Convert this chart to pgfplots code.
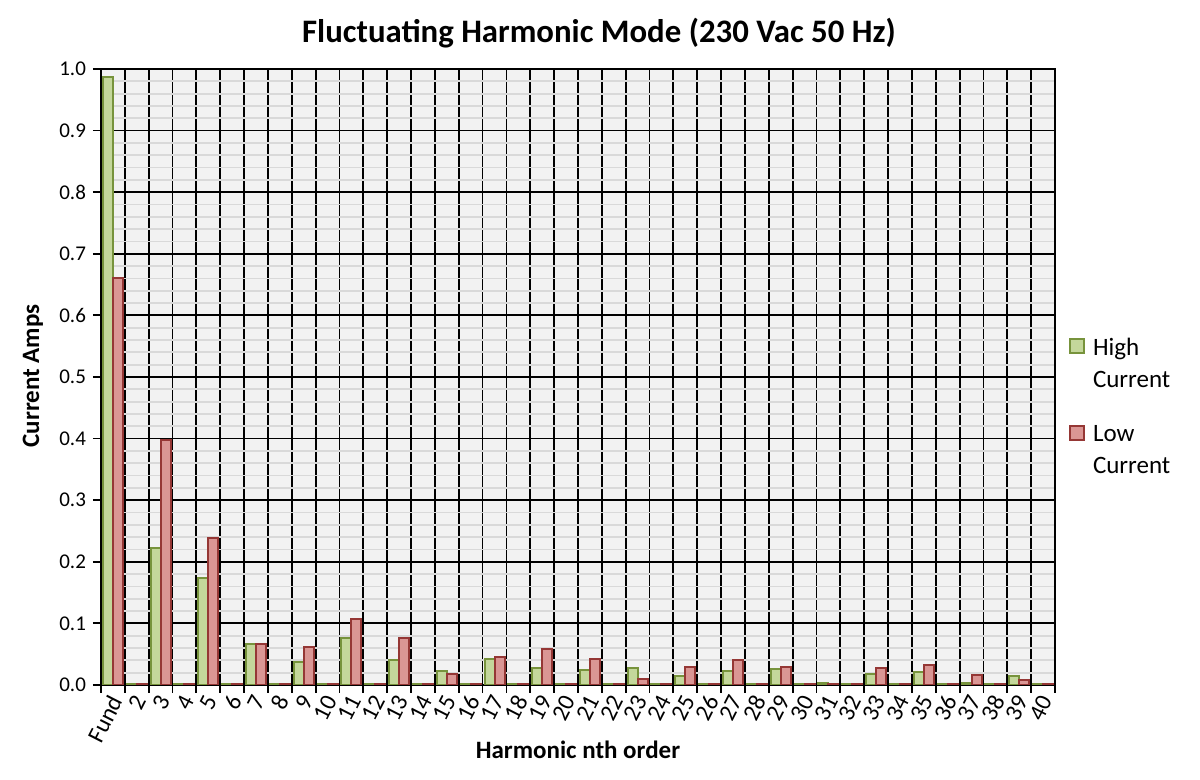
\documentclass[border=0pt]{standalone}
\usepackage{pgfplots}
\pgfplotsset{compat=1.18}
\usepackage{pgfplotstable}
\usepackage{fontspec}
\setmainfont{Carlito}
\definecolor{hifill}{HTML}{C4D79B}
\definecolor{hiline}{HTML}{77933C}
\definecolor{lofill}{HTML}{DA9694}
\definecolor{loline}{HTML}{953735}
\definecolor{bggray}{HTML}{F2F2F2}
\definecolor{mingrid}{HTML}{D9D9D9}

\pgfplotstableread{
x hi lo
1 0.987 0.660
2 0.002 0.002
3 0.223 0.397
4 0.002 0.002
5 0.173 0.239
6 0.002 0.002
7 0.067 0.067
8 0.002 0.002
9 0.038 0.062
10 0.002 0.002
11 0.077 0.107
12 0.002 0.002
13 0.040 0.077
14 0.002 0.002
15 0.022 0.018
16 0.002 0.002
17 0.043 0.045
18 0.002 0.002
19 0.027 0.059
20 0.002 0.002
21 0.025 0.043
22 0.002 0.002
23 0.027 0.009
24 0.002 0.002
25 0.014 0.030
26 0.002 0.002
27 0.022 0.041
28 0.002 0.002
29 0.026 0.029
30 0.002 0.002
31 0.004 0.002
32 0.002 0.002
33 0.018 0.027
34 0.002 0.002
35 0.021 0.032
36 0.002 0.002
37 0.004 0.017
38 0.002 0.002
39 0.014 0.008
40 0.002 0.002
}\datatable

\begin{document}
\begin{tikzpicture}
\path[use as bounding box] (0,0) rectangle (600pt,390pt);
\begin{axis}[
  at={(50.5pt,47.5pt)}, anchor=south west,
  scale only axis, width=477pt, height=308pt,
  ybar=0pt, bar width=0.42,
  xmin=0.5, xmax=40.5, ymin=0, ymax=1,
  xtick pos=left, ytick pos=left,
  xtick={1,...,40},
  xticklabels={Fund,2,3,4,5,6,7,8,9,10,11,12,13,14,15,16,17,18,19,20,21,22,23,24,25,26,27,28,29,30,31,32,33,34,35,36,37,38,39,40},
  x tick label style={rotate=63, anchor=east, inner sep=1pt, yshift=-2.5pt, font=\fontsize{12}{14}\selectfont},
  y tick label style={font=\fontsize{10.5}{12}\selectfont},
  major x tick style={draw=none},
  minor xtick={0.5,1.5,...,40.5},
  xminorgrids, minor x grid style={black, line width=0.9pt},
  minor x tick style={black, line width=0.9pt},
  tick align=outside, major tick length=4pt, minor tick length=4pt,
  ytick={0,0.1,0.2,0.3,0.4,0.5,0.6,0.7,0.8,0.9,1.0},
  yticklabel style={/pgf/number format/fixed, /pgf/number format/fixed zerofill, /pgf/number format/precision=1},
  ymajorgrids, major y grid style={black, line width=0.9pt},
  major y tick style={black, line width=0.9pt},
  minor y tick num=4, yminorgrids, minor y grid style={mingrid, line width=0.9pt},
  minor y tick style={draw=none},
  tick label style={/pgf/number format/assume math mode=true},
  axis background/.style={fill=bggray},
  axis line style={black, line width=1pt},
  title={\bfseries Fluctuating Harmonic Mode (230 Vac 50 Hz)},
  every axis title/.style={at={(axis description cs:0.522,1.0584)}, anchor=center, font=\fontsize{16.4}{19}\selectfont},
  xlabel={\bfseries Harmonic nth order},
  every axis x label/.style={at={(axis description cs:0.5,-0.1055)}, anchor=center, font=\fontsize{12.5}{15}\selectfont},
  ylabel={\bfseries Current Amps},
  every axis y label/.style={at={(axis description cs:-0.0713,0.5016)}, anchor=center, rotate=90, font=\fontsize{12.5}{15}\selectfont},
  legend style={at={(1.008,0.481)}, anchor=west, draw=none, fill=none,
    font=\fontsize{12.5}{16}\selectfont, row sep=26.5pt, cells={anchor=base west}},
  legend image code/.code={\draw[#1, line width=1pt] (0pt,1pt) rectangle (7pt,8pt);},
]
\addplot[draw=hiline, fill=hifill, line width=1pt] table[x=x, y=hi] {\datatable};
\addlegendentry{\hspace{2pt}\begin{tabular}[t]{@{}l@{}}High\\Current\end{tabular}}
\addplot[draw=loline, fill=lofill, line width=1pt] table[x=x, y=lo] {\datatable};
\addlegendentry{\hspace{2pt}\begin{tabular}[t]{@{}l@{}}Low\\Current\end{tabular}}
\end{axis}
\end{tikzpicture}
\end{document}
